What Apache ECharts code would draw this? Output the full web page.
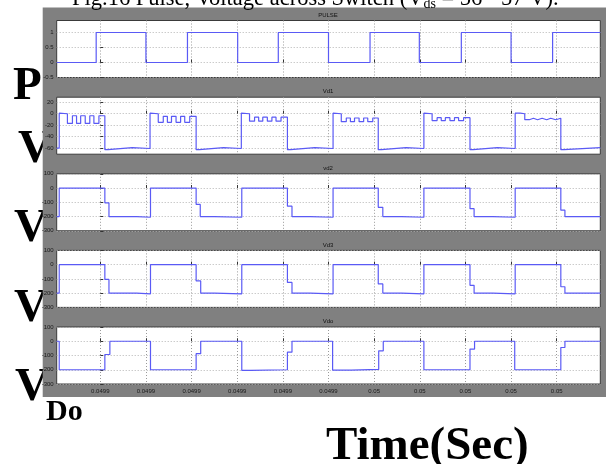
<!DOCTYPE html>
<html><head><meta charset="utf-8">
<script src="https://cdn.jsdelivr.net/npm/echarts@6/dist/echarts.min.js"></script>
<style>html,body{margin:0;padding:0;background:#fff}#c{width:606px;height:464px}</style>
</head><body><div id="c"></div>
<script>
// x is measured in units of the scope's tick spacing (tick k sits at x = k)
const xTickPos = [0,1,2,3,4,5,6,7,8,9,10];
const xTickLabels = ["0.0499","0.0499","0.0499","0.0499","0.0499","0.0499","0.05","0.05","0.05","0.05","0.05"];
const panelTitles = ["PULSE","Vd1","vd2","Vd3","Vdo"];
const yTickVals = [[-0.5,0,0.5,1],[-60,-40,-20,0,20],[-300,-200,-100,0,100],[-300,-200,-100,0,100],[-300,-200,-100,0,100]];
const yTickText = [["-0.5","0","0.5","1"],["-60","-40","-20","0","20"],["-300","-200","-100","0","100"],["-300","-200","-100","0","100"],["-300","-200","-100","0","100"]];

// step series: each point = [time where level starts, level]
const pulseT = [-0.955,-0.09,1.0,1.91,3.01,3.9,5.0,5.91,6.99,7.91,9.0,9.91,10.955];
const pulseV = [0,1,0,1,0,1,0,1,0,1,0,1,1];

const vd1T = [-0.955,
 -0.9,-0.86,-0.72,-0.61,-0.52,-0.43,-0.33,-0.23,-0.14,-0.03,0.1,0.17,0.7,
 1.09,1.13,1.27,1.38,1.47,1.56,1.66,1.76,1.85,1.96,2.1,2.17,2.7,
 3.09,3.13,3.27,3.38,3.47,3.56,3.66,3.76,3.85,3.96,4.1,4.17,4.7,
 5.1,5.14,5.28,5.39,5.48,5.57,5.67,5.77,5.86,5.97,6.09,6.16,6.7,
 7.09,7.13,7.27,7.38,7.47,7.56,7.66,7.76,7.85,7.96,8.1,8.17,8.7,
 9.09,9.2,9.3,9.4,9.49,9.58,9.68,9.78,9.87,9.98,10.09,10.16,10.955];
const vd1V = [-60.5,
 1,0,-17,-3.5,-17,-3.5,-17,-3.5,-17,-3.5,-63,-59.5,-61,
 1,0,-15,-4.5,-15,-4.5,-15,-4.5,-15,-4.5,-63,-59.5,-61,
 1,0,-13,-6,-13,-6,-13,-6,-13,-6,-63,-59.5,-61,
 1,0,-14,-7.5,-14,-7.5,-14,-7.5,-14,-7.5,-63,-59.5,-61,
 1,0,-12,-7,-12,-7,-12,-7,-12,-7,-63,-59.5,-61,
 1,0,-10.5,-8,-10.5,-8,-10.5,-8,-10.5,-8,-63,-59.5,-60];

const vd2T = [-0.955,-0.9,0.1,0.19,0.8,1.1,2.1,2.19,2.5,3.1,4.1,4.2,4.6,5.1,6.09,6.19,6.6,7.09,8.1,8.19,8.6,9.09,10.09,10.18,10.955];
const vd2V = [-200,0,-104,-200,-205,0,-115,-200,-205,0,-127,-200,-205,0,-135,-200,-205,0,-145,-200,-205,0,-155,-200,-200];

const vd3T = [-0.955,-0.9,0.1,0.19,0.8,1.1,2.1,2.2,2.5,3.1,4.1,4.2,4.6,5.1,6.09,6.19,6.6,7.09,8.1,8.19,8.6,9.09,10.09,10.18,10.955];
const vd3V = [-200,0,-104,-200,-205,0,-114,-200,-205,0,-125,-200,-205,0,-135,-200,-205,0,-145,-200,-205,0,-155,-200,-200];

const vdoT = [-0.955,-0.9,0.1,0.21,1.1,2.1,2.2,3.1,3.3,4.1,4.2,5.09,5.5,6.1,6.2,7.09,8.1,8.2,9.08,10.09,10.18,10.955];
const vdoV = [0,-200,-93,0,-200,-87,0,-205,-200,-77,0,-203,-198,-67,0,-200,-55,0,-200,-44,0,0];

const seriesT = [pulseT, vd1T, vd2T, vd3T, vdoT];
const seriesV = [pulseV, vd1V, vd2V, vd3V, vdoV];

const yMin = [-0.5,-71,-300,-300,-300];
const yMax = [1.4,29,100,100,100];
const tops = [20.5,97.2,173.8,250.4,327];
const H = 57;

const grids = [], xAxes = [], yAxes = [], series = [];
for (let i = 0; i < 5; i++) {
  grids.push({left:56.7, width:543.6, top:tops[i], height:H, show:true,
    backgroundColor:'#ffffff', borderColor:'#3a3a3a', borderWidth:1, containLabel:false});
  xAxes.push({type:'value', gridIndex:i, min:-0.955, max:10.955,
    axisLine:{show:false},
    axisTick:{show:true, inside:true, length:3, customValues:xTickPos, lineStyle:{color:'#333', width:1}},
    axisLabel:{show:i===4, customValues:xTickPos, fontSize:6, color:'#1a1a1a', margin:4,
      fontFamily:'Liberation Sans Narrow, Liberation Sans, sans-serif',
      formatter:(v)=>xTickLabels[Math.round(v)]},
    splitLine:{show:true, lineStyle:{type:[1,2], color:'#9a9a9a', width:1}}
  });
  const tv = yTickVals[i], tt = yTickText[i];
  yAxes.push({type:'value', gridIndex:i, min:yMin[i], max:yMax[i],
    axisLine:{show:false},
    axisTick:{show:true, inside:true, length:3, customValues:tv, lineStyle:{color:'#333'}},
    axisLabel:{show:true, customValues:tv, fontSize:6, color:'#1a1a1a', margin:3,
      fontFamily:'Liberation Sans Narrow, Liberation Sans, sans-serif',
      formatter:(v)=>{const k=tv.indexOf(v); return k>=0?tt[k]:'';}},
    splitLine:{show:true, lineStyle:{type:[1,2], color:'#b4b4b4', width:1}}
  });
  const d = seriesT[i].map((t,j)=>[t, seriesV[i][j]]);
  series.push({type:'line', xAxisIndex:i, yAxisIndex:i, data:d, step:'end',
    showSymbol:false, symbol:'none', animation:false, clip:true,
    lineStyle:{color:'#5a5af5', width:1.2}});
}

const bigFont = 'bold 47px "Liberation Serif", serif';
const graphic = [
  {type:'text', z:-20, left:13, top:63, style:{text:'P', font:bigFont, fill:'#000'}},
  {type:'text', z:-20, left:18, top:126, style:{text:'V', font:bigFont, fill:'#000'}},
  {type:'text', z:-20, left:14, top:205, style:{text:'V', font:bigFont, fill:'#000'}},
  {type:'text', z:-20, left:14, top:285, style:{text:'V', font:bigFont, fill:'#000'}},
  {type:'text', z:-20, left:15, top:364, style:{text:'V', font:bigFont, fill:'#000'}},
  {type:'rect', z:-10, shape:{x:42.7, y:7.5, width:563.3, height:389.5}, style:{fill:'#808080'}},
  {type:'text', z:5, left:46, top:397, style:{text:'Do', font:'bold 30px "Liberation Serif", serif', fill:'#000'}},
  {type:'text', z:5, left:326, top:423, style:{text:'Time(Sec)', font:'bold 47px "Liberation Serif", serif', fill:'#000'}},
  {type:'text', z:5, left:72, top:-12, style:{
    text:'Fig.16 Pulse, Voltage across Switch (V{s|ds} = 56 - 57 V).',
    font:'22.5px "Liberation Serif", serif', fill:'#000',
    rich:{s:{font:'14px "Liberation Serif", serif', fill:'#000', verticalAlign:'bottom', padding:[9,0,0,0]}}}}
];
for (let i = 0; i < 5; i++) {
  graphic.push({type:'text', z:5, x:328, y:tops[i]-5.5, style:{text:panelTitles[i], fontSize:6,
    fontFamily:'Liberation Sans Narrow, Liberation Sans, sans-serif', fill:'#111', align:'center', verticalAlign:'middle'}});
}

const chart = echarts.init(document.getElementById('c'), null, {renderer:'canvas'});
chart.setOption({animation:false, backgroundColor:'#ffffff', grid:grids, xAxis:xAxes, yAxis:yAxes, series:series, graphic:graphic});
</script></body></html>
